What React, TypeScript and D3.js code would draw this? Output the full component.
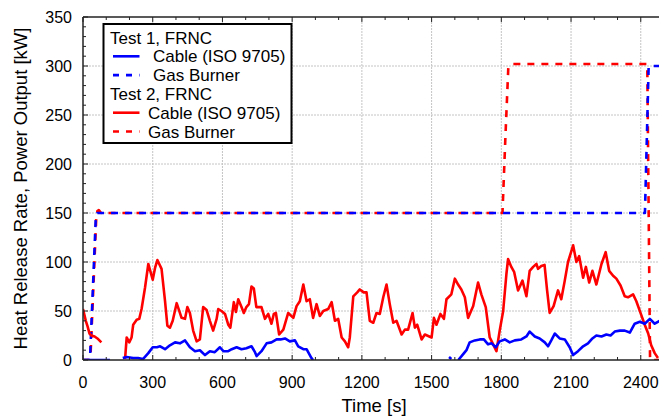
import { useEffect, useRef } from 'react';
import * as d3 from 'd3';

// tick labels
const xTicks = [0, 300, 600, 900, 1200, 1500, 1800, 2100, 2400];
const yTicks = [0, 50, 100, 150, 200, 250, 300, 350];

// Test 1, FRNC - cable (ISO 9705), null = no data
const test1CableTime = [
    0, 116, 130,
    171, 188, 216, 237, 258, 281, 300, 318, 332, 353, 374, 396, 417, 439, 460, 482, 503, 525, 546, 567, 589, 604,
    625, 640, 661, 682, 703, 725, 740, 747, 768, 790, 811, 833, 850, 869, 890, 912, 926, 948, 962, 983, 990, 1000,
    1575, 1585, 1600,
    1615, 1636, 1650, 1664, 1686, 1707, 1725, 1743, 1758, 1776, 1793, 1815, 1836, 1858, 1886, 1908, 1922, 1944, 1965,
    1987, 2001, 2015, 2030, 2051, 2073, 2094, 2109, 2130, 2152, 2173, 2192, 2209, 2231, 2252, 2270, 2288, 2310, 2331,
    2353, 2374, 2396, 2417, 2439, 2460, 2482,
];
const test1CableKw = [
    0, 0, null,
    2, 3, 2, 2, 1, 7, 13, 13, 14, 11, 15, 18, 17, 20, 13, 9, 10, 5, 9, 8, 13, 9,
    9, 11, 13, 11, 12, 14, 8, 4, 9, 17, 18, 21, 21, 22, 19, 20, 14, 11, 11, 2, 0, null,
    3, 1, null,
    0, 6, 10, 18, 20, 21, 21, 16, 17, 13, 19, 21, 18, 20, 21, 24, 29, 24, 22,
    18, 14, 20, 27, 22, 21, 13, 5, 9, 14, 17, 22, 25, 24, 26, 25, 29, 30, 30,
    28, 37, 39, 37, 42, 37, 40,
];

// Test 1, FRNC - gas burner
const test1BurnerTime = [0, 30, 55, 62, 2418, 2434, 2490];
const test1BurnerKw = [0, 0, 145, 150, 150, 300, 300];

// Test 2, FRNC - cable (ISO 9705)
const test2CableTime = [
    0, 6, 12, 20, 28, 36, 50, 62, 79, 90,
    181, 188, 199, 209, 216, 231, 242, 252, 267, 281, 300, 310, 320, 338, 353, 363, 374, 386, 403, 417, 424, 439,
    449, 460, 474, 489, 503, 517, 532, 546, 560, 575, 582, 596, 611, 625, 634, 649, 658, 668, 682, 692, 703, 714,
    725, 735, 746, 768, 783, 797, 811, 821, 830, 844, 862, 883, 905, 919, 933, 948, 962, 976, 990, 1005, 1019,
    1034, 1055, 1070, 1084, 1098, 1113, 1127, 1141, 1148, 1163, 1180, 1191, 1208, 1220, 1234, 1249, 1263, 1277,
    1292, 1306, 1320, 1335, 1349, 1371, 1385, 1399, 1418, 1428, 1438, 1457, 1471, 1490, 1500, 1510, 1521, 1538,
    1553, 1564, 1585, 1600, 1614, 1628, 1643, 1657, 1679, 1700, 1714, 1733, 1750, 1765, 1779, 1793, 1808, 1822,
    1829, 1843, 1855, 1872, 1891, 1908, 1922, 1937, 1951, 1958, 1972, 1986, 1997, 2008, 2025, 2044, 2058, 2073,
    2087, 2109, 2123, 2135, 2152, 2164, 2178, 2192, 2209, 2231, 2249, 2264, 2281, 2295, 2313, 2331, 2345, 2367,
    2381, 2402, 2417, 2432, 2445, 2460, 2474,
];
const test2CableKw = [
    52, 46, 40, 34, 27, 25, 24, 22, 18, null,
    1, 23, 18, 23, 36, 41, 42, 52, 74, 98, 82, 94, 102, 93, 60, 35, 33, 40, 58, 48, 43, 42,
    54, 48, 30, 19, 21, 54, 51, 40, 30, 42, 52, 50, 47, 36, 33, 59, 49, 62, 54, 48, 54, 57,
    75, 73, 54, 54, 42, 47, 37, 47, 48, 26, 31, 48, 43, 55, 60, 77, 60, 62, 43, 57, 45,
    50, 52, 59, 40, 42, 23, 19, 13, 23, 65, 69, 72, 69, 69, 40, 38, 48, 47,
    64, 77, 57, 38, 40, 26, 31, 31, 48, 33, 36, 21, 26, 24, 23, 43, 36, 47,
    42, 62, 67, 83, 77, 72, 64, 43, 55, 79, 67, 54, 23, 16, 9, 30, 50, 88,
    103, 95, 90, 71, 81, 65, 91, 95, 98, 93, 96, 97, 71, 48, 55, 71, 62, 81,
    100, 117, 100, 106, 84, 95, 79, 91, 77, 98, 110, 91, 86, 83, 76, 65, 64, 67,
    60, 46, 36, 27, 15, 7, 2,
];

// Test 2, FRNC - gas burner
const test2BurnerTime = [0, 25, 33, 57, 62, 68, 78, 1805, 1818, 1830, 1845, 2428, 2440, 2490];
const test2BurnerKw = [0, 0, 8, 145, 152, 153, 150, 150, 230, 298, 302, 302, 0, 0];

const zip = (ts, vs) => ts.map((t, i) => ({ t, v: vs[i] }));

const App = () => {
    const ref = useRef<SVGSVGElement>(null);
    const width = 659,
        height = 416;

    useEffect(() => {
        const svg = d3.select(ref.current);
        svg.selectAll('*').remove();

        const x = d3.scaleLinear().domain([0, 2500]).range([83, 664]);
        const y = d3.scaleLinear().domain([0, 350]).range([360, 17]);
        const font = "'Liberation Sans', Arial, sans-serif";

        svg.append('defs')
            .append('clipPath')
            .attr('id', 'plot')
            .append('rect')
            .attr('x', x(0))
            .attr('y', y(350))
            .attr('width', x(2500) - x(0))
            .attr('height', y(0) - y(350));

        // grid
        const grid = svg.append('g').attr('stroke', '#c4c4c4').attr('stroke-width', 1).attr('stroke-dasharray', '2,1');
        grid.selectAll('.gx')
            .data(xTicks.filter((d) => d > 0))
            .enter()
            .append('line')
            .attr('x1', (d) => x(d))
            .attr('x2', (d) => x(d))
            .attr('y1', y(0))
            .attr('y2', y(350));
        grid.selectAll('.gy')
            .data(yTicks.filter((d) => d > 0 && d < 350))
            .enter()
            .append('line')
            .attr('x1', x(0))
            .attr('x2', x(2500))
            .attr('y1', (d) => y(d))
            .attr('y2', (d) => y(d));

        // series
        const line = d3
            .line<any>()
            .defined((d) => d.v !== null)
            .x((d) => x(d.t))
            .y((d) => y(d.v));

        const series = [
            { data: zip(test2BurnerTime, test2BurnerKw), color: '#ff0000', dash: '7,7' },
            { data: zip(test1BurnerTime, test1BurnerKw), color: '#0000ff', dash: '7,7' },
            { data: zip(test2CableTime, test2CableKw), color: '#ff0000', dash: null },
            { data: zip(test1CableTime, test1CableKw), color: '#0000ff', dash: null },
        ];

        const plot = svg.append('g').attr('clip-path', 'url(#plot)');
        series.forEach((s) => {
            plot.append('path')
                .attr('d', line(s.data))
                .attr('fill', 'none')
                .attr('stroke', s.color)
                .attr('stroke-width', 2.6)
                .attr('stroke-linejoin', 'round')
                .attr('stroke-dasharray', s.dash);
        });

        // axes frame + ticks
        const axis = svg.append('g').attr('stroke', '#222').attr('stroke-width', 1.5);
        axis.append('line').attr('x1', x(0)).attr('x2', x(0)).attr('y1', y(0)).attr('y2', y(350));
        axis.append('line').attr('x1', x(0)).attr('x2', width).attr('y1', y(0)).attr('y2', y(0));
        axis.append('line').attr('x1', x(0)).attr('x2', width).attr('y1', y(350)).attr('y2', y(350));

        const ticks = svg.append('g').attr('stroke', '#222').attr('stroke-width', 1);
        d3.range(0, 2501, 100).forEach((t) => {
            const len = t % 300 === 0 ? 5 : 3;
            ticks.append('line').attr('x1', x(t)).attr('x2', x(t)).attr('y1', y(0)).attr('y2', y(0) - len);
            ticks.append('line').attr('x1', x(t)).attr('x2', x(t)).attr('y1', y(350)).attr('y2', y(350) + len);
        });
        d3.range(0, 351, 10).forEach((v) => {
            const len = v % 50 === 0 ? 5 : 3;
            ticks.append('line').attr('x1', x(0)).attr('x2', x(0) + len).attr('y1', y(v)).attr('y2', y(v));
        });

        // tick labels
        svg.append('g')
            .selectAll('text')
            .data(xTicks)
            .enter()
            .append('text')
            .attr('x', (d) => x(d))
            .attr('y', 388)
            .attr('text-anchor', 'middle')
            .attr('font-family', font)
            .attr('font-size', 16)
            .text((d) => d);
        svg.append('g')
            .selectAll('text')
            .data(yTicks)
            .enter()
            .append('text')
            .attr('x', 72)
            .attr('y', (d) => y(d) + 6)
            .attr('text-anchor', 'end')
            .attr('font-family', font)
            .attr('font-size', 16)
            .text((d) => d);

        // axis titles
        svg.append('text')
            .attr('x', 374)
            .attr('y', 412)
            .attr('text-anchor', 'middle')
            .attr('font-family', font)
            .attr('font-size', 18.5)
            .text('Time [s]');
        svg.append('text')
            .attr('transform', `translate(27,${(y(0) + y(350)) / 2}) rotate(-90)`)
            .attr('text-anchor', 'middle')
            .attr('font-family', font)
            .attr('font-size', 18.5)
            .text('Heat Release Rate, Power Output [kW]');

        // legend
        const legend = svg.append('g');
        legend.append('rect')
            .attr('x', 103.5)
            .attr('y', 24)
            .attr('width', 188)
            .attr('height', 119)
            .attr('fill', 'white')
            .attr('stroke', '#000')
            .attr('stroke-width', 2);

        const rows = [
            { label: 'Test 1, FRNC', color: null, dash: null, tx: 110 },
            { label: 'Cable (ISO 9705)', color: '#0000ff', dash: null, tx: 153 },
            { label: 'Gas Burner', color: '#0000ff', dash: '6,7', tx: 153 },
            { label: 'Test 2, FRNC', color: null, dash: null, tx: 110 },
            { label: 'Cable (ISO 9705)', color: '#ff0000', dash: null, tx: 148 },
            { label: 'Gas Burner', color: '#ff0000', dash: '6,7', tx: 148 },
        ];
        rows.forEach((r, i) => {
            const base = 43.5 + i * 18.8;
            legend.append('text')
                .attr('x', r.tx)
                .attr('y', base)
                .attr('font-family', font)
                .attr('font-size', 17)
                .text(r.label);
            if (r.color) {
                legend.append('line')
                    .attr('x1', 113)
                    .attr('x2', 139.5)
                    .attr('y1', base - 6)
                    .attr('y2', base - 6)
                    .attr('stroke', r.color)
                    .attr('stroke-width', 2.6)
                    .attr('stroke-dasharray', r.dash);
            }
        });
    }, []);

    return (
        <div style={{ position: 'absolute', left: 0, top: 0 }}>
            <svg ref={ref} width={width} height={height}></svg>
        </div>
    );
};

export default App;
